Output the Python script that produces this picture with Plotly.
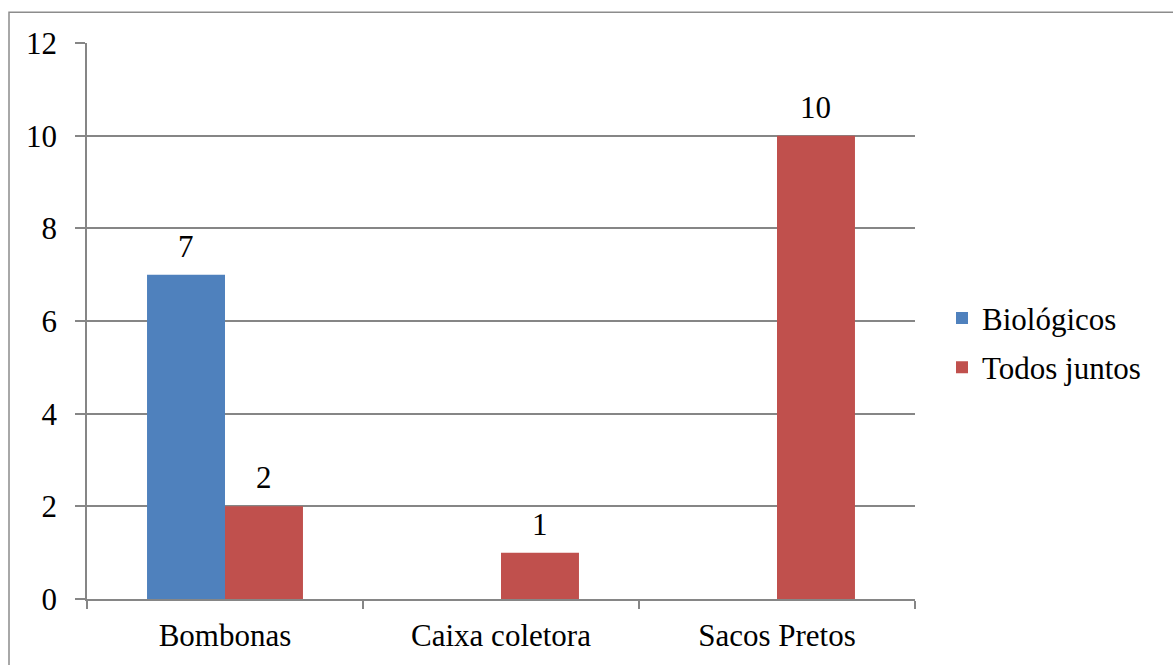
import plotly.graph_objects as go

categories = ["Bombonas", "Caixa coletora", "Sacos Pretos"]
biologicos = [7, None, None]
todos_juntos = [2, 1, 10]
y_ticks = [0, 2, 4, 6, 8, 10, 12]

W, H = 1173, 665
L, R, T, B = 87, 258, 43, 62
pw, ph = W - L - R, H - T - B
BARGAP = 0.435

font = dict(family="Liberation Serif", size=31, color="black")

fig = go.Figure()
fig.add_trace(go.Bar(x=categories, y=biologicos, name="Biológicos",
                     legendgroup="a",
                     marker=dict(color="#4F81BD", line=dict(width=0))))
fig.add_trace(go.Bar(x=categories, y=todos_juntos, name="Todos juntos",
                     legendgroup="b",
                     marker=dict(color="#C0504D", line=dict(width=0))))

# value labels above the bars
bar_px = pw / len(categories) * (1 - BARGAP) / 2
for series, offset in ((biologicos, -bar_px / 2), (todos_juntos, bar_px / 2)):
    for cat, val in zip(categories, series):
        if val is None:
            continue
        fig.add_annotation(x=cat, y=val, text=str(val), showarrow=False,
                           xanchor="center", yanchor="bottom",
                           xshift=offset, yshift=9, font=font)

def px_x(x):
    return (x - L) / pw

def px_y(y):
    return (H - B - y) / ph

fig.add_shape(type="rect", xref="paper", yref="paper",
              x0=px_x(9), x1=px_x(1185), y0=px_y(12), y1=px_y(680),
              line=dict(color="#8C8C8C", width=1.5), fillcolor="rgba(0,0,0,0)")

fig.update_layout(
    width=W, height=H,
    margin=dict(l=L, r=R, t=T, b=B),
    paper_bgcolor="white", plot_bgcolor="white",
    barmode="group", bargap=BARGAP, bargroupgap=0,
    font=font,
    showlegend=True,
    legend=dict(x=px_x(942), y=px_y(345), xanchor="left", yanchor="middle",
                font=font, tracegroupgap=6,
                bgcolor="rgba(0,0,0,0)"),
    xaxis=dict(showline=True, linecolor="#868686", linewidth=1.5,
               ticks="outside", tickson="boundaries", ticklen=8,
               tickcolor="#868686", tickwidth=1.5, tickfont=font,
               ticklabelstandoff=8, showgrid=False),
    yaxis=dict(range=[0, 12], tickvals=y_ticks, showline=True,
               linecolor="#868686", linewidth=1.5, ticks="outside",
               ticklen=10, tickcolor="#868686", tickwidth=1.5,
               ticklabelstandoff=12,
               showgrid=True, gridcolor="#868686", gridwidth=1.5,
               zeroline=False, tickfont=font),
)

fig.write_html("out.html", config={"displayModeBar": False},
               post_script="document.body.style.margin='0';")
